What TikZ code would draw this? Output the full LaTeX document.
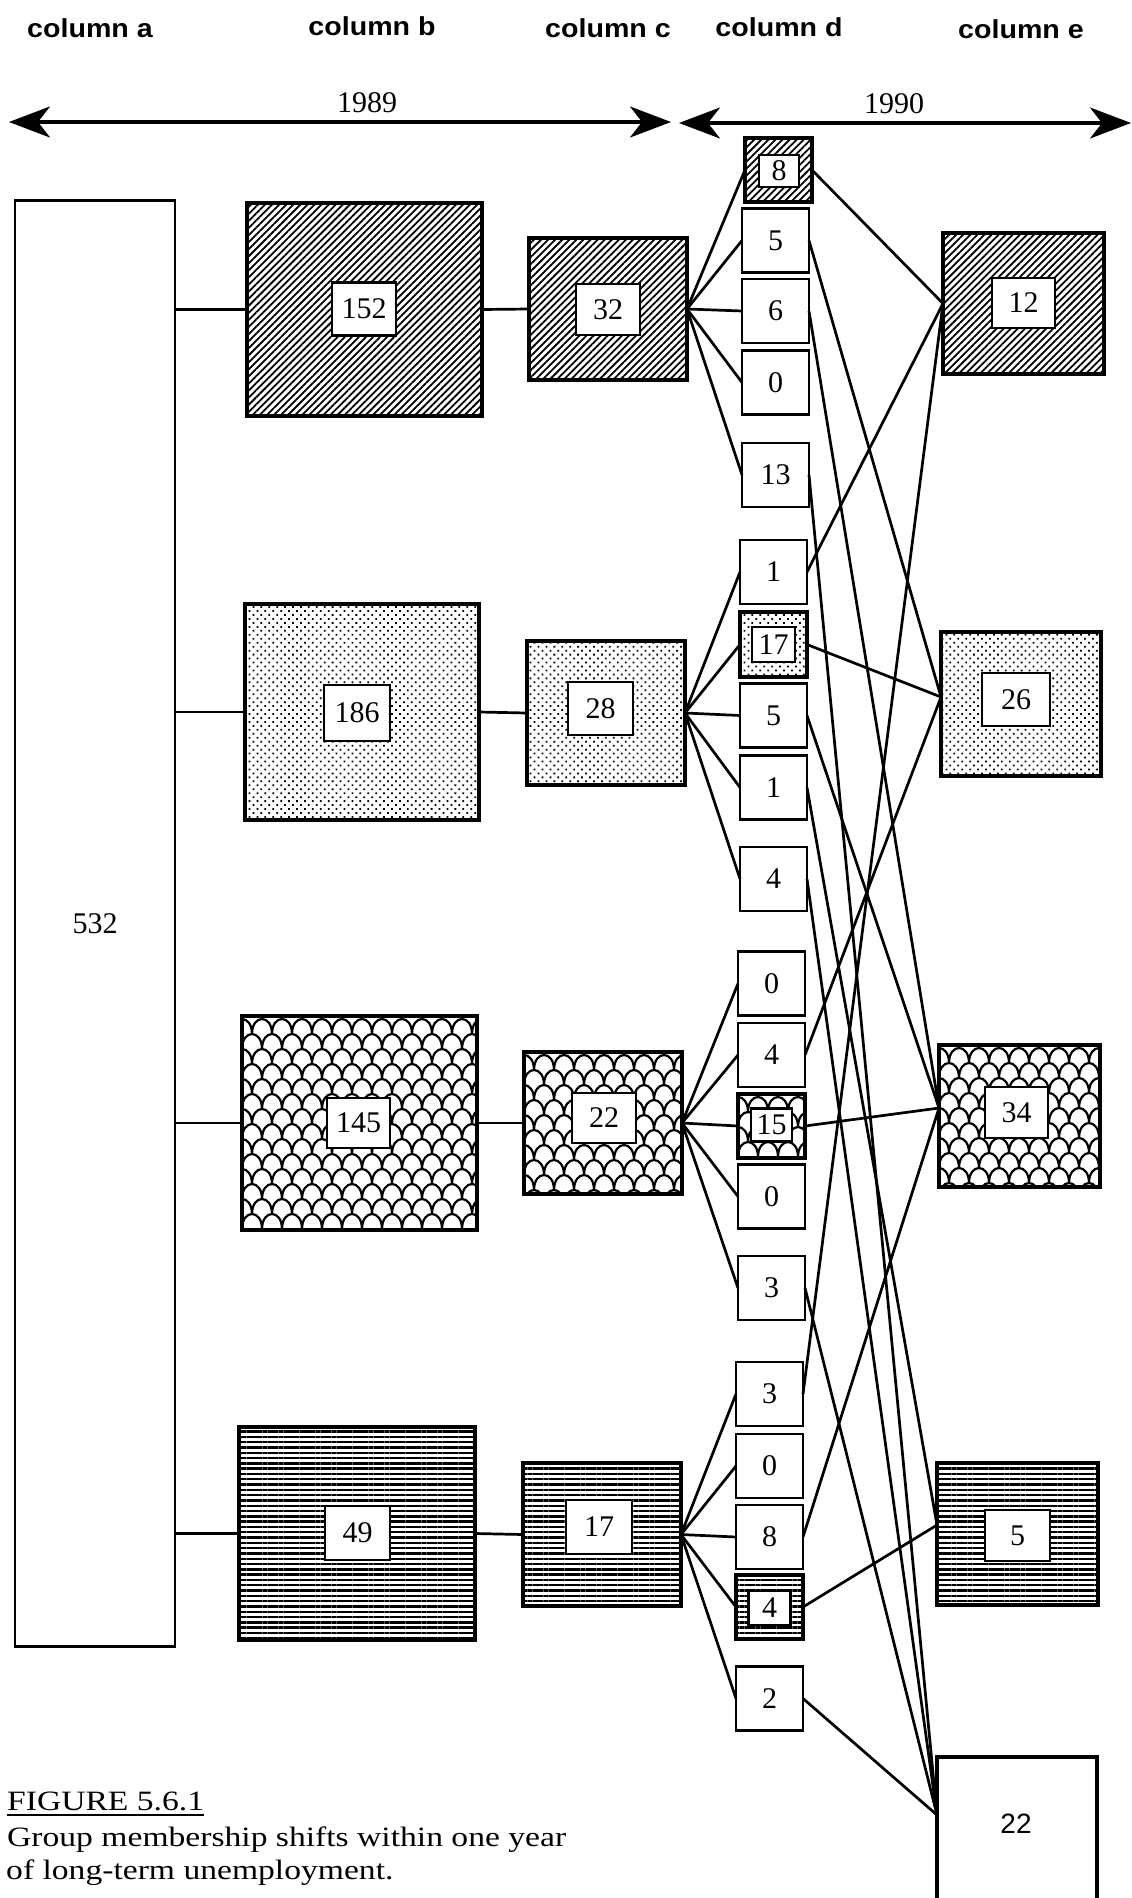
\documentclass[tikz,border=0pt]{standalone}
\usepackage{fontspec}
\setmainfont{Liberation Serif}
\newfontfamily\capfont[FakeStretch=1.2]{Liberation Serif}
\newfontfamily\headfont[FakeStretch=1.1]{Liberation Sans}
\newfontfamily\plainsans{Liberation Sans}
\usetikzlibrary{patterns.meta,arrows.meta}

\tikzset{
 frame/.style={draw,line width=3.2pt,inner sep=0pt,outer sep=0pt},
 numbox/.style={draw,line width=2.7pt,fill=white,inner sep=0pt,outer sep=0pt,font=\fontsize{30}{30}\selectfont},
 dbox/.style={numbox,minimum width=67pt,minimum height=64pt},
 hatchfill/.style={pattern={Lines[angle=45,distance=5pt,line width=1.8pt]}},
 dotfill/.style={pattern={Dots[radius=1.25pt,distance=5.6pt,angle=45]}},
 hlinefill/.style={pattern={Lines[angle=0,distance=5.3pt,line width=2.4pt]}},
 nofill/.style={},
 scaleline/.style={line width=2.2pt},
 conn/.style={line width=2.7pt},
 headtxt/.style={font=\headfont\bfseries\fontsize{26}{26}\selectfont,anchor=base,inner sep=0pt},
 yeartxt/.style={font=\fontsize{30}{30}\selectfont,anchor=base,inner sep=0pt},
 captxt/.style={font=\capfont\fontsize{28}{34}\selectfont,anchor=base west,inner sep=0pt},
 yeararrow/.style={line width=3.2pt,{Stealth[length=41pt,width=31pt,inset=12pt]}-{Stealth[length=41pt,width=31pt,inset=12pt]}},
}

% patterned / framed box by corners: name x1 y1 x2 y2 style
\newcommand\pbox[6]{%
 \node[frame,#6,minimum width={(#4-#2)*1pt},minimum height={(#5-#3)*1pt}] (#1) at ({(#2+#4)/2},{(#3+#5)/2}) {};}
% inner white number box: name cx cy w h text
\newcommand\ibox[6]{%
 \node[numbox,minimum width=#4pt,minimum height=#5pt] (#1) at (#2,#3) {#6};}
% fish-scale texture inside a rectangle x1 y1 x2 y2
\newcommand\scalesfill[4]{%
 \begin{scope}
 \clip (#1,#2) rectangle (#3,#4);
 \foreach \ri in {0,...,16}{%
  \foreach \cj in {-1,...,12}{%
   \pgfmathsetmacro\sxx{#1+\cj*20-mod(\ri,2)*10}%
   \pgfmathsetmacro\syy{#2+\ri*15+3}%
   \draw[scaleline] (\sxx,\syy) .. controls (\sxx,\syy-20) and (\sxx+20,\syy-20) .. (\sxx+20,\syy);
  }}
 \end{scope}}

\begin{document}
\begin{tikzpicture}[x=1pt,y=-1pt]
\useasboundingbox (0,0) rectangle (1132,1898);
\fill[white] (0,0) rectangle (1132,1898);

% headers
\node[headtxt] (ha) at (90,37) {column a};
\node[headtxt] (hb) at (372,35) {column b};
\node[headtxt] (hc) at (608,37) {column c};
\node[headtxt] (hd) at (779,36) {column d};
\node[headtxt] (he) at (1021,38) {column e};

% year arrows
\node[yeartxt] (y89) at (367,112) {1989};
\node[yeartxt] (y90) at (894,113) {1990};
\coordinate (a1l) at (9,122);
\coordinate (a1r) at (671,122);
\coordinate (a2l) at (679,123);
\coordinate (a2r) at (1131,123);
\draw[yeararrow] (a1l) -- (a1r);
\draw[yeararrow] (a2l) -- (a2r);

% column a
\node[frame,line width=2.8pt,minimum width=160pt,minimum height=1446pt,font=\fontsize{30}{30}\selectfont] (A) at (95,923.5) {532};

% column b
\pbox{B1}{247}{203}{482}{416}{hatchfill}
\ibox{B1n}{364}{309}{64}{53}{152}
\pbox{B2}{245}{604}{479}{820}{dotfill}
\ibox{B2n}{357}{713}{66}{56}{186}
\pbox{B3}{242}{1016}{477}{1230}{nofill}
\scalesfill{242}{1016}{477}{1230}
\ibox{B3n}{358.5}{1123}{63}{50}{145}
\pbox{B4}{239}{1427}{475}{1640}{hlinefill}
\ibox{B4n}{357.5}{1533}{65}{54}{49}

% column c
\pbox{C1}{529}{238}{687}{380}{hatchfill}
\ibox{C1n}{608}{309.5}{64}{51}{32}
\pbox{C2}{527}{641}{685}{785}{dotfill}
\ibox{C2n}{600.5}{708.5}{65}{53}{28}
\pbox{C3}{524}{1052}{682}{1194}{nofill}
\scalesfill{524}{1052}{682}{1194}
\ibox{C3n}{604}{1118}{64}{50}{22}
\pbox{C4}{523}{1463}{681}{1606}{hlinefill}
\ibox{C4n}{599}{1527}{66}{54}{17}

% column d, group 1
\pbox{d11}{745}{138}{812}{202}{hatchfill}
\ibox{d11n}{779}{171}{40}{32}{8}
\node[dbox] (d12) at (775.5,240.5) {5};
\node[dbox] (d13) at (775.5,311) {6};
\node[dbox] (d14) at (775.5,382.5) {0};
\node[dbox] (d15) at (775.5,475) {13};
% group 2
\node[dbox] (d21) at (773.5,572) {1};
\pbox{d22}{740}{612}{807}{677}{dotfill}
\ibox{d22n}{773.5}{644.5}{43}{35}{17}
\node[dbox] (d23) at (773.5,715.5) {5};
\node[dbox] (d24) at (773.5,787.5) {1};
\node[dbox] (d25) at (773.5,879) {4};
% group 3
\node[dbox] (d31) at (771.5,983.5) {0};
\node[dbox] (d32) at (771.5,1055) {4};
\pbox{d33}{738}{1094}{805}{1158}{nofill}
\scalesfill{738}{1094}{805}{1158}
\ibox{d33n}{771.5}{1125}{41}{33}{15}
\node[dbox] (d34) at (771.5,1196.5) {0};
\node[dbox] (d35) at (771.5,1288) {3};
% group 4
\node[dbox] (d41) at (769.5,1394) {3};
\node[dbox] (d42) at (769.5,1466) {0};
\node[dbox] (d43) at (769.5,1537) {8};
\pbox{d44}{736}{1575}{803}{1639}{hlinefill}
\ibox{d44n}{769.5}{1608}{42}{34}{4}
\node[dbox] (d45) at (769.5,1698.5) {2};

% column e
\pbox{E1}{943}{233}{1104}{374}{hatchfill}
\ibox{E1n}{1023.5}{303}{63}{50}{12}
\pbox{E2}{941}{632}{1101}{776}{dotfill}
\ibox{E2n}{1016}{699.5}{68}{53}{26}
\pbox{E3}{939}{1045}{1100}{1187}{nofill}
\scalesfill{939}{1045}{1100}{1187}
\ibox{E3n}{1016.5}{1112.5}{63}{51}{34}
\pbox{E4}{937}{1463}{1098}{1605}{hlinefill}
\ibox{E4n}{1017.5}{1535.5}{65}{51}{5}
\pbox{E5}{937}{1757}{1097}{1912}{nofill}
\node[font=\plainsans\fontsize{28}{28}\selectfont] (E5t) at (1016,1824) {22};

\coordinate (E1w) at (E1.west);
\coordinate (E2w) at ([yshift=7pt]E2.west);
\coordinate (E3w) at ([yshift=8pt]E3.west);
\coordinate (E4w) at ([yshift=9pt]E4.west);
\coordinate (E5w) at ([yshift=-58pt]E5.north west);

% a -> b -> c
\foreach \g in {1,...,4}{
 \draw[conn] (A.east |- B\g.west) -- (B\g.west);
 \draw[conn] (B\g.east) -- (C\g.west);
 \foreach \k in {1,...,5}{\draw[conn] (C\g.east) -- (d\g\k.west);}
}

% d -> e
\draw[conn] (d11.east) -- (E1w);
\draw[conn] (d12.east) -- (E2w);
\draw[conn] (d13.east) -- (E3w);
\draw[conn] (d15.east) -- (E5w);
\draw[conn] (d21.east) -- (E1w);
\draw[conn] (d22.east) -- (E2w);
\draw[conn] (d23.east) -- (E3w);
\draw[conn] (d24.east) -- (E4w);
\draw[conn] (d25.east) -- (E5w);
\draw[conn] (d32.east) -- (E2w);
\draw[conn] (d33.east) -- (E3w);
\draw[conn] (d35.east) -- (E5w);
\draw[conn] (d41.east) -- (E1w);
\draw[conn] (d43.east) -- (E3w);
\draw[conn] (d44.east) -- (E4w);
\draw[conn] (d45.east) -- (E5w);

% caption
\node[captxt] (figlab) at (7,1810) {FIGURE 5.6.1};
\draw[line width=1.8pt] ([yshift=-5pt]figlab.base west) -- ([yshift=-5pt]figlab.base east);
\node[captxt] (cap1) at (7,1846) {Group membership shifts within one year};
\node[captxt] (cap2) at (6,1879) {of long-term unemployment.};
\end{tikzpicture}
\end{document}
